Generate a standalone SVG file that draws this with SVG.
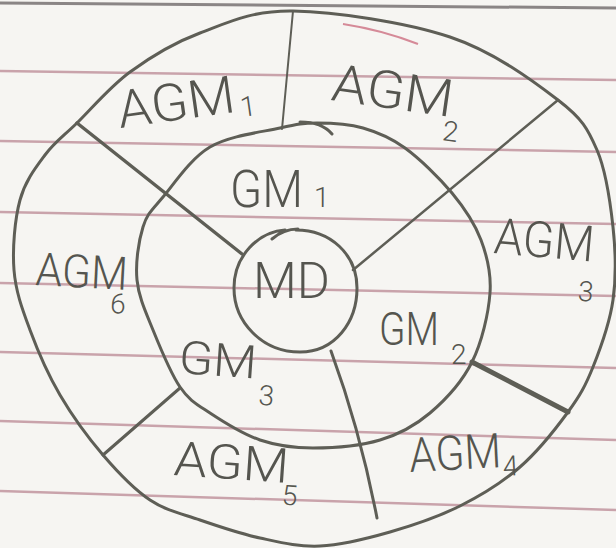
<svg xmlns="http://www.w3.org/2000/svg" width="616" height="548" viewBox="0 0 616 548">
<style>
.rule{stroke:#c9a3ab;stroke-width:2.5;fill:none}
.ink{stroke:#5e5e56;fill:none;stroke-linecap:round;stroke-linejoin:round}
.lbl{font-family:Roboto,"Liberation Sans",Arial,sans-serif;font-weight:300;fill:#55554f}
.sub{font-family:Roboto,"Liberation Sans",Arial,sans-serif;font-weight:300;fill:#55554f;font-size:28px}
</style>
<rect width="616" height="548" fill="#f6f5f2"/>
<g id="paper">
<line x1="0" y1="3" x2="616" y2="8" stroke="#8a8585" stroke-width="3"/>
<line class="rule" x1="0" y1="71" x2="616" y2="80"/>
<line class="rule" x1="0" y1="141" x2="616" y2="152"/>
<line class="rule" x1="0" y1="212" x2="616" y2="224"/>
<line class="rule" x1="0" y1="283" x2="616" y2="296"/>
<line class="rule" x1="0" y1="352" x2="616" y2="368"/>
<line class="rule" x1="0" y1="421" x2="616" y2="440"/>
<line class="rule" x1="0" y1="491" x2="616" y2="510"/>
<path d="M343,24 Q382,30 418,44" stroke="#d58a98" stroke-width="2" fill="none"/>
</g>
<g id="outer-ring">
<path class="ink" stroke-width="3" d="M293,11 C334.7,11.7 405.8,22.2 450,37 C494.2,51.8 533.5,81.2 558,100 C582.5,118.8 587.8,128.8 597,150 C606.2,171.2 610.3,202 613,227 C615.7,252 616.3,276.7 613,300 C609.7,323.3 600.5,348.3 593,367 C585.5,385.7 580.2,395.3 568,412 C555.8,428.7 538,451.3 520,467 C502,482.7 481.7,495.2 460,506 C438.3,516.8 413.3,525.3 390,532 C366.7,538.7 341.7,545 320,546 C298.3,547 280,542.3 260,538 C240,533.7 218.3,526.3 200,520 C181.7,513.7 166.2,510.8 150,500 C133.8,489.2 118,472.5 103,455 C88,437.5 72.2,415.8 60,395 C47.8,374.2 37.7,350.8 30,330 C22.3,309.2 15.7,291.7 14,270 C12.3,248.3 14.8,219.2 20,200 C25.2,180.8 35.5,167.8 45,155 C54.5,142.2 62.8,136.8 77,123 C91.2,109.2 109.5,87 130,72 C150.5,57 172.8,43.2 200,33 C227.2,22.8 251.3,10.3 293,11 Z"/>
</g>
<g id="middle-ring">
<path class="ink" stroke-width="3" d="M317,123 C330.8,123 348.3,123.8 363,128 C377.7,132.2 390.2,137.2 405,148 C419.8,158.8 439.3,177.7 452,193 C464.7,208.3 474.7,223.3 481,240 C487.3,256.7 491.5,272.7 490,293 C488.5,313.3 482,342 472,362 C462,382 445.3,400 430,413 C414.7,426 399.5,434.2 380,440 C360.5,445.8 333,448 313,448 C293,448 277.2,445.8 260,440 C242.8,434.2 223.3,421.8 210,413 C196.7,404.2 189.5,400.8 180,387 C170.5,373.2 160.2,347.8 153,330 C145.8,312.2 138.7,297.2 137,280 C135.3,262.8 138.7,240.8 143,227 C147.3,213.2 151.8,210.3 163,197 C174.2,183.7 190.5,158.5 210,147 C229.5,135.5 262.2,132 280,128 C297.8,124 303.2,123 317,123 Z M300,122 Q322,122 332,134"/>
</g>
<g id="inner-ring">
<path class="ink" stroke-width="3" d="M296,230 C330,230 357,254 357,288 C357,322 335,352 300,352 C262,352 234,322 234,288 C234,256 258,232 285,230 M272,239 C280,232 290,229 298,229"/>
</g>
<g id="connectors">
<line class="ink" stroke-width="2" x1="293" y1="11" x2="282" y2="129"/>
<line class="ink" stroke-width="3.5" x1="77" y1="123" x2="242" y2="254"/>
<line class="ink" stroke-width="2.5" x1="558" y1="100" x2="353" y2="270"/>
<line class="ink" stroke-width="5" x1="472" y1="362" x2="568" y2="412"/>
<path class="ink" stroke-width="3" d="M331,351 Q360,430 377,518"/>
<line class="ink" stroke-width="3" x1="180" y1="388" x2="103" y2="455"/>
</g>
<g id="MD"><text class="lbl" x="253" y="298" font-size="50" textLength="77" lengthAdjust="spacingAndGlyphs">MD</text></g>
<g id="GM1"><text class="lbl" x="230" y="207" font-size="52" textLength="73" lengthAdjust="spacingAndGlyphs">GM</text><text class="sub" x="314" y="207" font-size="30">1</text></g>
<g id="GM2"><text class="lbl" x="379" y="345" font-size="46" textLength="60" lengthAdjust="spacingAndGlyphs">GM</text><text class="sub" x="451" y="364" font-size="30">2</text></g>
<g id="GM3" transform="translate(178,373) rotate(4)"><text class="lbl" x="0" y="0" font-size="46" textLength="78" lengthAdjust="spacingAndGlyphs">GM</text><text class="sub" x="82" y="26" font-size="30">3</text></g>
<g id="AGM1" transform="translate(120,128) rotate(-8)"><text class="lbl" x="0" y="0" font-size="52" textLength="118" lengthAdjust="spacingAndGlyphs">AGM</text><text class="sub" x="122" y="6">1</text></g>
<g id="AGM2" transform="translate(330,100) rotate(8)"><text class="lbl" x="0" y="0" font-size="52" textLength="122" lengthAdjust="spacingAndGlyphs">AGM</text><text class="sub" x="116" y="24" font-size="30">2</text></g>
<g id="AGM3" transform="translate(493,253) rotate(5)"><text class="lbl" x="0" y="0" font-size="50" textLength="100" lengthAdjust="spacingAndGlyphs">AGM</text><text class="sub" x="88" y="40" font-size="30">3</text></g>
<g id="AGM4" transform="translate(410,472) rotate(-3)"><text class="lbl" x="0" y="0" font-size="48" textLength="92" lengthAdjust="spacingAndGlyphs">AGM</text><text class="sub" x="93" y="9">4</text></g>
<g id="AGM5" transform="translate(173,475) rotate(4)"><text class="lbl" x="0" y="0" font-size="48" textLength="115" lengthAdjust="spacingAndGlyphs">AGM</text><text class="sub" x="110" y="22" font-size="30">5</text></g>
<g id="AGM6" transform="translate(35,285) rotate(3)"><text class="lbl" x="0" y="0" font-size="46" textLength="92" lengthAdjust="spacingAndGlyphs">AGM</text><text class="sub" x="76" y="24" font-size="26">6</text></g>
</svg>
